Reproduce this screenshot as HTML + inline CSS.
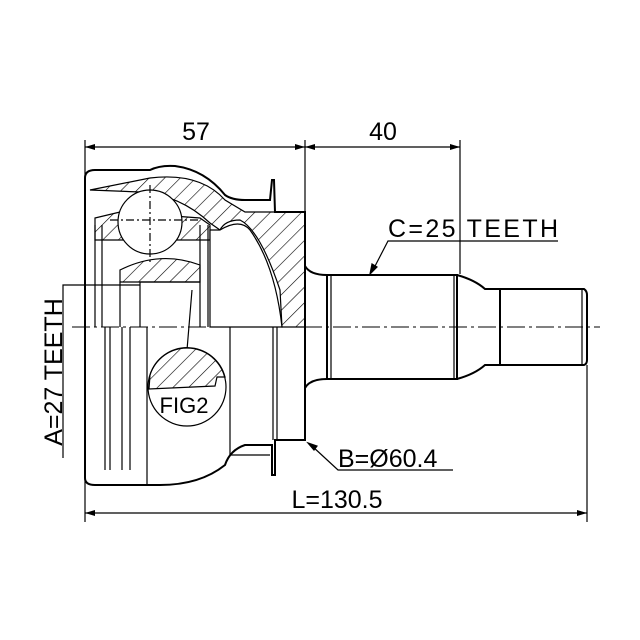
<!DOCTYPE html>
<html><head><style>body{margin:0;background:#fff}svg{display:block}</style></head><body>
<svg width="640" height="640" viewBox="0 0 640 640" xmlns="http://www.w3.org/2000/svg" font-family="Liberation Sans, sans-serif">
<defs>
<pattern id="h" patternUnits="userSpaceOnUse" width="11" height="11" patternTransform="rotate(45)"><line x1="0" y1="0" x2="0" y2="11" stroke="#000" stroke-width="1.2"/></pattern>
</defs>
<g fill="none" stroke="#000" stroke-width="1.2">
<line x1="85" y1="140" x2="85" y2="522"/>
<line x1="305" y1="140" x2="305" y2="212"/>
<line x1="460" y1="140" x2="460" y2="274"/>
<line x1="587" y1="365" x2="587" y2="522"/>
<line x1="85" y1="147" x2="305" y2="147"/>
<path d="M95,144 L85,147 L95,150z M295,144 L305,147 L295,150z M315,144 L305,147 L315,150z M450,144 L460,147 L450,150z M95,510 L85,513 L95,516z M577,510 L587,513 L577,516z" fill="#000" stroke="none"/>
<line x1="305" y1="147" x2="460" y2="147"/>
<line x1="85" y1="513" x2="587" y2="513"/>
<polyline points="558,241 388,241 373,270"/>
<path d="M370,274 L372,264 L377,267z" fill="#000"/>
<polyline points="453,470 338,470 312,446"/>
<path d="M308,443 L317,446 L314,450z" fill="#000"/>
<polyline points="63,458 63,285 140,285"/>
<line x1="72" y1="327" x2="600" y2="327" stroke-dasharray="18,4,3,4" stroke-width="1"/>
<path d="M85,178 Q85,170 95,170 L150,170 Q160,165 175,166 Q205,170 225,195 Q232,200 245,200 L270,200 L272,180 L274,180 L275,212 L305,212 L305,440 L275,440 L275,475 L272,475 L272,445 L245,445 Q230,450 225,465 Q200,485 160,485 L95,485 Q85,485 85,478 Z" stroke-width="2"/>
<path d="M90,190 L150,178 Q200,172 225,200 L245,212 L275,212 L305,212 L305,327 L282,327 L280,290 Q260,230 240,220 Q225,220 220,230 L210,223 Q180,195 140,192 Z" fill="url(#h)" stroke-width="1.2"/>
<path d="M95,218 L120,212 L200,218 L210,225 L210,240 L95,240 Z" fill="url(#h)"/>
<path d="M120,270 Q160,250 200,265 L200,282 L120,282 Z" fill="url(#h)"/>
<path d="M210,230 L220,230 Q240,218 250,230 Q275,265 282,327 L210,327 Z" fill="#fff"/>
<circle cx="150" cy="222" r="32" fill="#fff"/>
<line x1="150" y1="185" x2="150" y2="262" stroke-dasharray="8,3,2,3"/>
<line x1="110" y1="220" x2="200" y2="220" stroke-dasharray="8,3,2,3"/>
<line x1="95" y1="225" x2="95" y2="327"/><line x1="102" y1="225" x2="102" y2="327"/>
<line x1="120" y1="282" x2="120" y2="327"/><line x1="140" y1="282" x2="140" y2="327"/>
<line x1="140" y1="282" x2="200" y2="282"/>
<line x1="200" y1="225" x2="200" y2="327"/><line x1="208" y1="225" x2="208" y2="327"/>
<line x1="105" y1="327" x2="105" y2="470"/><line x1="110" y1="327" x2="110" y2="470"/>
<line x1="122" y1="327" x2="122" y2="470"/><line x1="130" y1="327" x2="130" y2="470"/>
<line x1="147" y1="327" x2="147" y2="485"/>
<line x1="230" y1="327" x2="230" y2="455"/>
<line x1="230" y1="455" x2="270" y2="455"/>
<line x1="273" y1="327" x2="273" y2="440"/><line x1="277" y1="327" x2="277" y2="440"/>
<line x1="192" y1="290" x2="187" y2="350"/>
<circle cx="187" cy="387" r="39" fill="#fff"/>
<path d="M150,375 A39,39 0 0 1 225,377 L217,377 L215,386 L149,389 Z" fill="url(#h)"/>
<path d="M305,266 Q310,275 327,275 L457,275 Q475,280 485,289 L500,289 L500,365 L485,365 Q475,374 457,379 L327,379 Q310,379 305,388" stroke-width="2"/>
<rect x="327" y="275" width="130" height="104" stroke-width="2"/>
<line x1="331" y1="275" x2="331" y2="379"/><line x1="454" y1="275" x2="454" y2="379"/>
<path d="M500,289 L584,289 Q587,291 587,295 L587,360 Q587,364 584,365 L500,365" stroke-width="2"/>
<line x1="582" y1="289" x2="582" y2="365"/>
</g>
<g font-size="25" fill="#000">
<text x="196" y="140" text-anchor="middle">57</text>
<text x="383" y="140" text-anchor="middle">40</text>
<text x="388" y="237" textLength="170">C=25 TEETH</text>
<text x="338" y="467">B=Ø60.4</text>
<text x="337" y="508" text-anchor="middle">L=130.5</text>
<text x="184" y="413" text-anchor="middle" font-size="22">FIG2</text>
<text transform="translate(62,372) rotate(-90)" text-anchor="middle">A=27 TEETH</text>
</g>
</svg>
</body></html>
